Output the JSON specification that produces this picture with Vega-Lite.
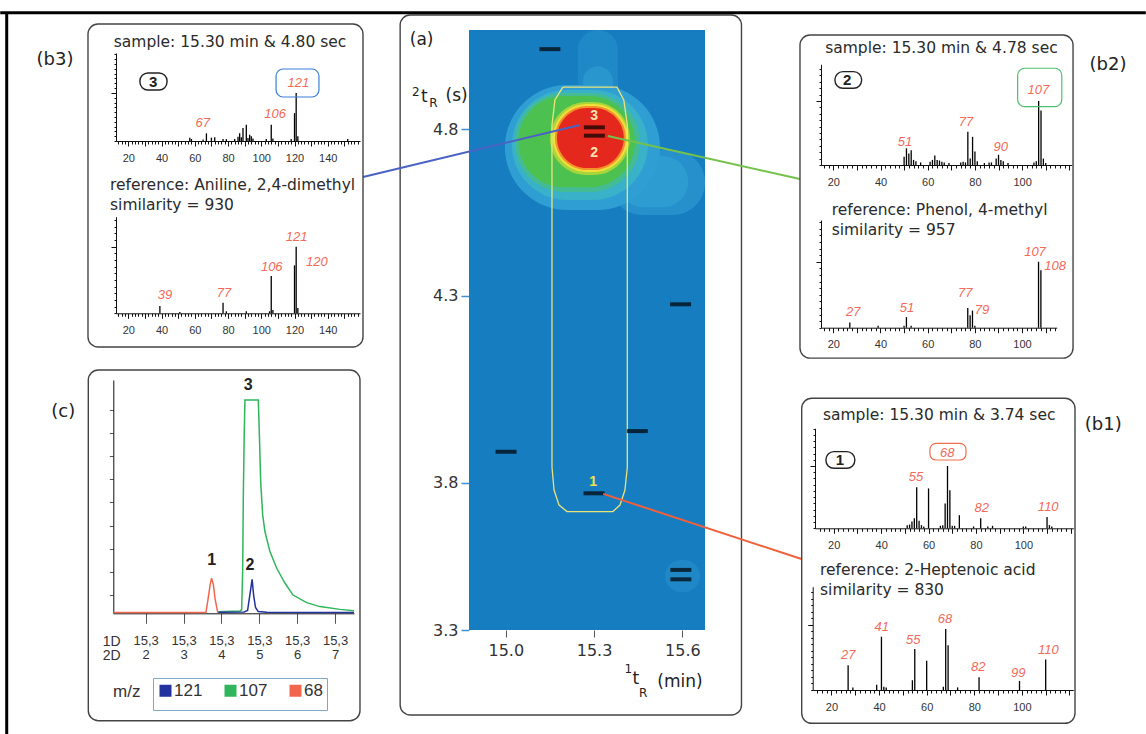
{
"$schema":"https://vega.github.io/schema/vega-lite/v6.json",
"width":1146,"height":734,"autosize":"none","padding":0,"background":"white",
"config":{"view":{"stroke":null},"axis":{"grid":false,"labelFont":"Liberation Sans","domainWidth":1,"tickWidth":1,"labelOverlap":false,"labelFlush":false,"title":null},"text":{"font":"Liberation Sans","baseline":"middle","align":"center"}},
"resolve":{"scale":{"x":"independent","y":"independent","color":"independent","stroke":"independent"},"axis":{"x":"independent","y":"independent"},"legend":{"color":"independent"}},
"layer":[
{
"encoding":{
"x":{"field":"x","type":"quantitative","scale":{"domain":[14.875,15.677],"range":[469,705],"zero":false,"nice":false},"axis":{"orient":"bottom","offset":-104,"values":[15.0,15.3,15.6],"format":".1f","domain":false,"tickSize":7,"tickColor":"#555","labelFont":"DejaVu Sans","labelFontSize":16,"labelColor":"#333","labelPadding":5}},
"y":{"field":"y","type":"quantitative","scale":{"domain":[3.3,3.8,4.3,4.8,5.1],"range":[630,482.7,295.7,129,30],"zero":false,"nice":false},"axis":{"orient":"left","offset":-469,"values":[3.3,3.8,4.3,4.8],"format":".1f","domainColor":"#e6c0c0","tickSize":8,"tickColor":"#3d8fd6","tickWidth":1.5,"labelFont":"DejaVu Sans","labelFontSize":16,"labelColor":"#333","labelPadding":3}}
},
"layer":[
{"data":{"values":[{"x":14.875,"x2":15.677,"y":3.3,"y2":5.1}]},"mark":{"type":"rect","fill":"#177dc1"},"encoding":{"x2":{"field":"x2"},"y2":{"field":"y2"}}},
{"data":{"values":[
{"x":15.541,"x2":15.660,"y":3.429,"y2":3.538,"lv":1},
{"x":15.245,"x2":15.381,"y":4.858,"y2":5.100,"lv":2},
{"x":15.262,"x2":15.364,"y":4.850,"y2":4.990,"lv":3},
{"x":15.354,"x2":15.677,"y":4.542,"y2":4.737,"lv":4},
{"x":15.380,"x2":15.620,"y":4.565,"y2":4.720,"lv":5},
{"x":14.997,"x2":15.524,"y":4.557,"y2":4.933,"lv":6},
{"x":15.021,"x2":15.483,"y":4.587,"y2":4.918,"lv":7},
{"x":15.031,"x2":15.456,"y":4.611,"y2":4.909,"lv":8},
{"x":15.043,"x2":15.439,"y":4.625,"y2":4.900,"lv":9},
{"x":15.150,"x2":15.422,"y":4.662,"y2":4.882,"lv":10},
{"x":15.160,"x2":15.415,"y":4.671,"y2":4.876,"lv":11},
{"x":15.167,"x2":15.408,"y":4.677,"y2":4.870,"lv":12},
{"x":15.174,"x2":15.401,"y":4.683,"y2":4.864,"lv":13}
]},"mark":{"type":"rect","cornerRadius":80},"encoding":{"x2":{"field":"x2"},"y2":{"field":"y2"},"color":{"field":"lv","type":"ordinal","scale":{"domain":[1,2,3,4,5,6,7,8,9,10,11,12,13],"range":["#2088c7","#1f88c7","#2a96ce","#2590cb","#2d9cd0","#2f9fd3","#39b1c9","#43bc95","#4cc14f","#a8d43c","#f1df3a","#f3912b","#e5281d"]},"legend":null}}},
{"data":{"values":[
{"x":15.194,"y":4.927,"o":1},{"x":15.378,"y":4.927,"o":2},{"x":15.401,"y":4.888,"o":3},{"x":15.413,"y":4.812,"o":4},{"x":15.413,"y":3.842,"o":5},{"x":15.405,"y":3.775,"o":6},{"x":15.388,"y":3.724,"o":7},{"x":15.364,"y":3.702,"o":8},{"x":15.208,"y":3.702,"o":9},{"x":15.181,"y":3.724,"o":10},{"x":15.164,"y":3.775,"o":11},{"x":15.157,"y":3.842,"o":12},{"x":15.157,"y":4.812,"o":13},{"x":15.167,"y":4.888,"o":14},{"x":15.194,"y":4.927,"o":15}
]},"mark":{"type":"line","stroke":"#ece37c","strokeWidth":1.3},"encoding":{"order":{"field":"o","type":"quantitative"}}},
{"data":{"values":[
{"x":15.150,"y":5.042},{"x":15.301,"y":4.805},{"x":15.301,"y":4.780},{"x":15.594,"y":4.277},{"x":15.001,"y":3.883},{"x":15.447,"y":3.938},{"x":15.300,"y":3.764},{"x":15.595,"y":3.504},{"x":15.595,"y":3.472}
]},"mark":{"type":"tick","orient":"horizontal","size":21,"thickness":4,"color":"#000"}},
{"data":{"values":[{"x":15.30,"y":4.839,"t":"3"},{"x":15.30,"y":4.727,"t":"2"}]},"mark":{"type":"text","fontWeight":"bold","fontSize":14,"color":"#fbe4b0"},"encoding":{"text":{"field":"t"}}},
{"data":{"values":[{"x":15.297,"y":3.803,"t":"1"}]},"mark":{"type":"text","fontWeight":"bold","fontSize":14,"color":"#f5e04a"},"encoding":{"text":{"field":"t"}}},
{"data":{"values":[{"x":14.641,"x2":15.801,"y":3.0115,"y2":5.1455}]},"mark":{"type":"rect","fillOpacity":0,"stroke":"#444","strokeWidth":1.4,"cornerRadius":10},"encoding":{"x2":{"field":"x2"},"y2":{"field":"y2"}}},
{"data":{"values":[{"x":13.282,"x2":17.175,"y":5.152,"y2":5.152},{"x":13.304,"x2":13.304,"y":5.152,"y2":2.947}]},"mark":{"type":"rule","color":"#000","strokeWidth":3},"encoding":{"x2":{"field":"x2"},"y2":{"field":"y2"}}},
{"data":{"values":[
{"x":14.515,"y":4.656,"x2":15.252,"y2":4.812,"c":"b"},
{"x":15.347,"y":4.779,"x2":15.999,"y2":4.650,"c":"g"},
{"x":15.331,"y":3.762,"x2":16.005,"y2":3.541,"c":"r"}
]},"mark":{"type":"rule","strokeWidth":2},"encoding":{"x2":{"field":"x2"},"y2":{"field":"y2"},"stroke":{"field":"c","type":"nominal","scale":{"domain":["b","g","r"],"range":["#4a62c4","#74c24c","#f0603c"]},"legend":null}}},
{"data":{"values":[{"x":14.714,"y":5.070,"t":"(a)"},{"x":14.723,"y":4.896,"t":"t"},{"x":14.833,"y":4.900,"t":"(s)"},{"x":15.442,"y":3.134,"t":"t"},{"x":15.592,"y":3.124,"t":"(min)"}]},"mark":{"type":"text","font":"DejaVu Sans","fontSize":17,"color":"#222"},"encoding":{"text":{"field":"t"}}},
{"data":{"values":[{"x":14.694,"y":4.913,"t":"2"},{"x":14.754,"y":4.878,"t":"R"},{"x":15.416,"y":3.167,"t":"1"},{"x":15.467,"y":3.085,"t":"R"}]},"mark":{"type":"text","font":"DejaVu Sans","fontSize":12,"color":"#222"},"encoding":{"text":{"field":"t"}}}
]
},
{
"encoding":{
"x":{"field":"x","type":"quantitative","scale":{"domain":[12.6,159.4],"range":[116,360],"zero":false,"nice":false},"axis":{"orient":"bottom","offset":-593,"values":[14,16,18,20,22,24,26,28,30,32,34,36,38,40,42,44,46,48,50,52,54,56,58,60,62,64,66,68,70,72,74,76,78,80,82,84,86,88,90,92,94,96,98,100,102,104,106,108,110,112,114,116,118,120,122,124,126,128,130,132,134,136,138,140,142,144,146,148,150,152,154,156,158],"format":"d","labelExpr":"datum.value % 20 === 0 ? datum.label : ''","tickSize":{"condition":{"test":"datum.value % 10 === 0","value":5},"value":3},"labelFontSize":11,"labelColor":"#333","labelPadding":6,"domainColor":"#111","tickColor":"#111"}},
"y":{"field":"y","type":"quantitative","scale":{"domain":[0,183],"range":[141,53],"zero":false,"nice":false},"axis":{"orient":"left","offset":-116,"values":[0,10,20,30,40,50,60,70,80,90,100,110,120,130,140,150,160,170,180],"labels":false,"tickSize":{"condition":{"test":"datum.value === 100","value":5},"value":2},"domainColor":"#111","tickColor":"#111"}}
},
"layer":[
{"data":{"values":[{"x":57,"y":7},{"x":58,"y":4},{"x":65,"y":3},{"x":67,"y":16},{"x":70,"y":7},{"x":72,"y":8},{"x":77,"y":4},{"x":79,"y":4},{"x":84,"y":4},{"x":86,"y":9},{"x":87,"y":16},{"x":88,"y":8},{"x":89,"y":27},{"x":91,"y":34},{"x":92,"y":6},{"x":93,"y":13},{"x":94,"y":10},{"x":95,"y":5},{"x":103,"y":4},{"x":106,"y":34},{"x":107,"y":5},{"x":118,"y":4},{"x":120,"y":58},{"x":121,"y":100},{"x":122,"y":10},{"x":152,"y":4}]},"mark":{"type":"rule","color":"#000","strokeWidth":1.3},"encoding":{"y2":{"datum":0}}},
{"data":{"values":[{"x":64.8,"y":36.8,"t":"67"},{"x":108.3,"y":55.5,"t":"106"},{"x":122.3,"y":120,"t":"121"}]},"mark":{"type":"text","fontStyle":"italic","fontSize":13,"color":"#f26a5a"},"encoding":{"text":{"field":"t"}}},
{"data":{"values":[{"x":108.9,"x2":134.7,"y":91.5,"y2":149.7}]},"mark":{"type":"rect","fillOpacity":0,"stroke":"#3a7fd5","strokeWidth":1.2,"cornerRadius":7},"encoding":{"x2":{"field":"x2"},"y2":{"field":"y2"}}},
{"data":{"values":[{"x":27.0,"x2":43.3,"y":106.1,"y2":141.4}]},"mark":{"type":"rect","fillOpacity":0,"stroke":"#222","strokeWidth":1.4,"cornerRadius":8},"encoding":{"x2":{"field":"x2"},"y2":{"field":"y2"}}},
{"data":{"values":[{"x":34.9,"y":122.7,"t":"3"}]},"mark":{"type":"text","fontWeight":"bold","fontSize":15,"color":"#222"},"encoding":{"text":{"field":"t"}}},
{"data":{"values":[{"x":81.2,"y":205.9,"t":"sample: 15.30 min & 4.80 sec"}]},"mark":{"type":"text","font":"DejaVu Sans","fontSize":15.5,"color":"#2a2a2a"},"encoding":{"text":{"field":"t"}}},
{"data":{"values":[{"x":-4.25,"x2":161.2,"y":-428.4,"y2":243.3}]},"mark":{"type":"rect","fillOpacity":0,"stroke":"#444","strokeWidth":1.4,"cornerRadius":10},"encoding":{"x2":{"field":"x2"},"y2":{"field":"y2"}}},
{"data":{"values":[{"x":-24.1,"y":168.4,"t":"(b3)"}]},"mark":{"type":"text","font":"DejaVu Sans","fontSize":18,"color":"#222"},"encoding":{"text":{"field":"t"}}}
]
},
{
"encoding":{
"x":{"field":"x","type":"quantitative","scale":{"domain":[12.6,159.4],"range":[116,360],"zero":false,"nice":false},"axis":{"orient":"bottom","offset":-420.7,"values":[14,16,18,20,22,24,26,28,30,32,34,36,38,40,42,44,46,48,50,52,54,56,58,60,62,64,66,68,70,72,74,76,78,80,82,84,86,88,90,92,94,96,98,100,102,104,106,108,110,112,114,116,118,120,122,124,126,128,130,132,134,136,138,140,142,144,146,148,150,152,154,156,158],"format":"d","labelExpr":"datum.value % 20 === 0 ? datum.label : ''","tickSize":{"condition":{"test":"datum.value % 10 === 0","value":5},"value":3},"labelFontSize":11,"labelColor":"#333","labelPadding":6,"domainColor":"#111","tickColor":"#111"}},
"y":{"field":"y","type":"quantitative","scale":{"domain":[0,145],"range":[313.3,216.7],"zero":false,"nice":false},"axis":{"orient":"left","offset":-116,"values":[0,10,20,30,40,50,60,70,80,90,100,110,120,130,140],"labels":false,"tickSize":{"condition":{"test":"datum.value === 100","value":5},"value":2},"domainColor":"#111","tickColor":"#111"}}
},
"layer":[
{"data":{"values":[{"x":39,"y":11},{"x":51,"y":2},{"x":77,"y":16},{"x":79,"y":3},{"x":91,"y":3},{"x":105,"y":3},{"x":106,"y":56},{"x":107,"y":5},{"x":120,"y":72},{"x":121,"y":100},{"x":122,"y":8}]},"mark":{"type":"rule","color":"#000","strokeWidth":1.3},"encoding":{"y2":{"datum":0}}},
{"data":{"values":[{"x":42.1,"y":27.5,"t":"39"},{"x":77.6,"y":30.5,"t":"77"},{"x":106.3,"y":70,"t":"106"},{"x":121.3,"y":115,"t":"121"},{"x":133.5,"y":77,"t":"120"}]},"mark":{"type":"text","fontStyle":"italic","fontSize":13,"color":"#f26a5a"},"encoding":{"text":{"field":"t"}}},
{"data":{"values":[{"x":9.0,"y":192.6,"t":"reference: Aniline, 2,4-dimethyl"},{"x":9.0,"y":162.6,"t":"similarity = 930"}]},"mark":{"type":"text","align":"left","font":"DejaVu Sans","fontSize":15.5,"color":"#2a2a2a"},"encoding":{"text":{"field":"t"}}}
]
},
{
"encoding":{
"x":{"field":"x","type":"quantitative","scale":{"domain":[14.79,121.0],"range":[821,1071.7],"zero":false,"nice":false},"axis":{"orient":"bottom","offset":-569,"values":[16,18,20,22,24,26,28,30,32,34,36,38,40,42,44,46,48,50,52,54,56,58,60,62,64,66,68,70,72,74,76,78,80,82,84,86,88,90,92,94,96,98,100,102,104,106,108,110,112,114,116,118,120],"format":"d","labelExpr":"datum.value % 20 === 0 && datum.value <= 100 ? datum.label : ''","tickSize":{"condition":{"test":"datum.value % 10 === 0","value":5},"value":3},"labelFontSize":11,"labelColor":"#333","labelPadding":6,"domainColor":"#111","tickColor":"#111"}},
"y":{"field":"y","type":"quantitative","scale":{"domain":[0,157.3],"range":[165,64.3],"zero":false,"nice":false},"axis":{"orient":"left","offset":-821,"values":[0,10,20,30,40,50,60,70,80,90,100,110,120,130,140,150],"labels":false,"tickSize":{"condition":{"test":"datum.value === 100","value":5},"value":2},"domainColor":"#111","tickColor":"#111"}}
},
"layer":[
{"data":{"values":[{"x":50,"y":13},{"x":51,"y":26},{"x":52,"y":18},{"x":53,"y":23},{"x":54,"y":8},{"x":55,"y":6},{"x":57,"y":4},{"x":61,"y":5},{"x":62,"y":8},{"x":63,"y":15},{"x":64,"y":8},{"x":65,"y":7},{"x":66,"y":5},{"x":67,"y":4},{"x":69,"y":3},{"x":74,"y":4},{"x":75,"y":5},{"x":76,"y":4},{"x":77,"y":52},{"x":78,"y":10},{"x":79,"y":44},{"x":80,"y":21},{"x":81,"y":6},{"x":84,"y":3},{"x":86,"y":4},{"x":87,"y":4},{"x":89,"y":10},{"x":90,"y":16},{"x":91,"y":8},{"x":92,"y":6},{"x":94,"y":3},{"x":105,"y":4},{"x":106,"y":6},{"x":107,"y":100},{"x":108,"y":85},{"x":109,"y":10},{"x":110,"y":3}]},"mark":{"type":"rule","color":"#000","strokeWidth":1.3},"encoding":{"y2":{"datum":0}}},
{"data":{"values":[{"x":50.4,"y":36.4,"t":"51"},{"x":76.2,"y":67.7,"t":"77"},{"x":90.9,"y":28.6,"t":"90"},{"x":106.9,"y":117.2,"t":"107"}]},"mark":{"type":"text","fontStyle":"italic","fontSize":13,"color":"#f26a5a"},"encoding":{"text":{"field":"t"}}},
{"data":{"values":[{"x":98.1,"x2":116.8,"y":91.1,"y2":151.1}]},"mark":{"type":"rect","fillOpacity":0,"stroke":"#4cc06a","strokeWidth":1.2,"cornerRadius":7},"encoding":{"x2":{"field":"x2"},"y2":{"field":"y2"}}},
{"data":{"values":[{"x":20.7,"x2":32.0,"y":119.8,"y2":145.8}]},"mark":{"type":"rect","fillOpacity":0,"stroke":"#222","strokeWidth":1.4,"cornerRadius":8},"encoding":{"x2":{"field":"x2"},"y2":{"field":"y2"}}},
{"data":{"values":[{"x":25.9,"y":132.8,"t":"2"}]},"mark":{"type":"text","fontWeight":"bold","fontSize":15,"color":"#222"},"encoding":{"text":{"field":"t"}}},
{"data":{"values":[{"x":65.8,"y":182.8,"t":"sample: 15.30 min & 4.78 sec"}]},"mark":{"type":"text","font":"DejaVu Sans","fontSize":15.5,"color":"#2a2a2a"},"encoding":{"text":{"field":"t"}}},
{"data":{"values":[{"x":5.89,"x2":121.57,"y":-301.6,"y2":203.1}]},"mark":{"type":"rect","fillOpacity":0,"stroke":"#444","strokeWidth":1.4,"cornerRadius":10},"encoding":{"x2":{"field":"x2"},"y2":{"field":"y2"}}},
{"data":{"values":[{"x":136.4,"y":156.3,"t":"(b2)"}]},"mark":{"type":"text","font":"DejaVu Sans","fontSize":18,"color":"#222"},"encoding":{"text":{"field":"t"}}}
]
},
{
"encoding":{
"x":{"field":"x","type":"quantitative","scale":{"domain":[14.79,114.7],"range":[821,1056.7],"zero":false,"nice":false},"axis":{"orient":"bottom","offset":-406.3,"values":[16,18,20,22,24,26,28,30,32,34,36,38,40,42,44,46,48,50,52,54,56,58,60,62,64,66,68,70,72,74,76,78,80,82,84,86,88,90,92,94,96,98,100,102,104,106,108,110,112,114],"format":"d","labelExpr":"datum.value % 20 === 0 ? datum.label : ''","tickSize":{"condition":{"test":"datum.value % 10 === 0","value":5},"value":3},"labelFontSize":11,"labelColor":"#333","labelPadding":6,"domainColor":"#111","tickColor":"#111"}},
"y":{"field":"y","type":"quantitative","scale":{"domain":[0,163.2],"range":[327.7,220],"zero":false,"nice":false},"axis":{"orient":"left","offset":-821,"values":[0,10,20,30,40,50,60,70,80,90,100,110,120,130,140,150,160],"labels":false,"tickSize":{"condition":{"test":"datum.value === 100","value":5},"value":2},"domainColor":"#111","tickColor":"#111"}}
},
"layer":[
{"data":{"values":[{"x":27,"y":8},{"x":39,"y":3},{"x":50,"y":3},{"x":51,"y":16},{"x":53,"y":3},{"x":77,"y":30},{"x":78,"y":19},{"x":79,"y":26},{"x":80,"y":3},{"x":107,"y":100},{"x":108,"y":87}]},"mark":{"type":"rule","color":"#000","strokeWidth":1.3},"encoding":{"y2":{"datum":0}}},
{"data":{"values":[{"x":28.5,"y":24.2,"t":"27"},{"x":51.2,"y":29.4,"t":"51"},{"x":75.9,"y":52.1,"t":"77"},{"x":83.0,"y":26.8,"t":"79"},{"x":105.5,"y":115.2,"t":"107"},{"x":114.0,"y":93.9,"t":"108"}]},"mark":{"type":"text","fontStyle":"italic","fontSize":13,"color":"#f26a5a"},"encoding":{"text":{"field":"t"}}},
{"data":{"values":[{"x":19.3,"y":178.3,"t":"reference: Phenol, 4-methyl"},{"x":19.3,"y":148.0,"t":"similarity = 957"}]},"mark":{"type":"text","align":"left","font":"DejaVu Sans","fontSize":15.5,"color":"#2a2a2a"},"encoding":{"text":{"field":"t"}}}
]
},
{
"encoding":{
"x":{"field":"x","type":"quantitative","scale":{"domain":[12.09,121.08],"range":[815,1073.3],"zero":false,"nice":false},"axis":{"orient":"bottom","offset":-205.7,"values":[14,16,18,20,22,24,26,28,30,32,34,36,38,40,42,44,46,48,50,52,54,56,58,60,62,64,66,68,70,72,74,76,78,80,82,84,86,88,90,92,94,96,98,100,102,104,106,108,110,112,114,116,118,120],"format":"d","labelExpr":"datum.value % 20 === 0 && datum.value <= 100 ? datum.label : ''","tickSize":{"condition":{"test":"datum.value % 10 === 0","value":5},"value":3},"labelFontSize":11,"labelColor":"#333","labelPadding":6,"domainColor":"#111","tickColor":"#111"}},
"y":{"field":"y","type":"quantitative","scale":{"domain":[0,160.5],"range":[528.3,428.3],"zero":false,"nice":false},"axis":{"orient":"left","offset":-815,"values":[0,10,20,30,40,50,60,70,80,90,100,110,120,130,140,150,160],"labels":false,"tickSize":{"condition":{"test":"datum.value === 100","value":5},"value":2},"domainColor":"#111","tickColor":"#111"}}
},
"layer":[
{"data":{"values":[{"x":51,"y":5},{"x":52,"y":6},{"x":53,"y":11},{"x":54,"y":16},{"x":55,"y":66},{"x":56,"y":12},{"x":57,"y":5},{"x":58,"y":3},{"x":60,"y":64},{"x":65,"y":4},{"x":66,"y":5},{"x":67,"y":40},{"x":68,"y":100},{"x":69,"y":61},{"x":70,"y":4},{"x":71,"y":4},{"x":73,"y":21},{"x":79,"y":3},{"x":82,"y":16},{"x":85,"y":3},{"x":87,"y":4},{"x":100,"y":3},{"x":101,"y":3},{"x":110,"y":18},{"x":111,"y":5},{"x":112,"y":3}]},"mark":{"type":"rule","color":"#000","strokeWidth":1.3},"encoding":{"y2":{"datum":0}}},
{"data":{"values":[{"x":54.7,"y":81.9,"t":"55"},{"x":67.9,"y":121.3,"t":"68"},{"x":82.4,"y":32.1,"t":"82"},{"x":110.5,"y":33.7,"t":"110"}]},"mark":{"type":"text","fontStyle":"italic","fontSize":13,"color":"#f26a5a"},"encoding":{"text":{"field":"t"}}},
{"data":{"values":[{"x":60.6,"x2":75.8,"y":109.6,"y2":136.4}]},"mark":{"type":"rect","fillOpacity":0,"stroke":"#f07050","strokeWidth":1.2,"cornerRadius":6},"encoding":{"x2":{"field":"x2"},"y2":{"field":"y2"}}},
{"data":{"values":[{"x":16.7,"x2":28.9,"y":96.3,"y2":123.0}]},"mark":{"type":"rect","fillOpacity":0,"stroke":"#222","strokeWidth":1.4,"cornerRadius":8},"encoding":{"x2":{"field":"x2"},"y2":{"field":"y2"}}},
{"data":{"values":[{"x":22.6,"y":109.6,"t":"1"}]},"mark":{"type":"text","fontWeight":"bold","fontSize":15,"color":"#222"},"encoding":{"text":{"field":"t"}}},
{"data":{"values":[{"x":64.5,"y":181.9,"t":"sample: 15.30 min & 3.74 sec"}]},"mark":{"type":"text","font":"DejaVu Sans","fontSize":15.5,"color":"#2a2a2a"},"encoding":{"text":{"field":"t"}}},
{"data":{"values":[{"x":6.48,"x2":121.8,"y":-313.0,"y2":208.7}]},"mark":{"type":"rect","fillOpacity":0,"stroke":"#444","strokeWidth":1.4,"cornerRadius":10},"encoding":{"x2":{"field":"x2"},"y2":{"field":"y2"}}},
{"data":{"values":[{"x":133.7,"y":165.8,"t":"(b1)"}]},"mark":{"type":"text","font":"DejaVu Sans","fontSize":18,"color":"#222"},"encoding":{"text":{"field":"t"}}}
]
},
{
"encoding":{
"x":{"field":"x","type":"quantitative","scale":{"domain":[12.12,121.6],"range":[812.7,1073.3],"zero":false,"nice":false},"axis":{"orient":"bottom","offset":-44,"values":[14,16,18,20,22,24,26,28,30,32,34,36,38,40,42,44,46,48,50,52,54,56,58,60,62,64,66,68,70,72,74,76,78,80,82,84,86,88,90,92,94,96,98,100,102,104,106,108,110,112,114,116,118,120],"format":"d","labelExpr":"datum.value % 20 === 0 && datum.value <= 100 ? datum.label : ''","tickSize":{"condition":{"test":"datum.value % 10 === 0","value":5},"value":3},"labelFontSize":11,"labelColor":"#333","labelPadding":6,"domainColor":"#111","tickColor":"#111"}},
"y":{"field":"y","type":"quantitative","scale":{"domain":[0,158.9],"range":[690,586.7],"zero":false,"nice":false},"axis":{"orient":"left","offset":-812.7,"values":[0,10,20,30,40,50,60,70,80,90,100,110,120,130,140,150],"labels":false,"tickSize":{"condition":{"test":"datum.value === 100","value":5},"value":2},"domainColor":"#111","tickColor":"#111"}}
},
"layer":[
{"data":{"values":[{"x":27,"y":38},{"x":29,"y":4},{"x":39,"y":8},{"x":41,"y":82},{"x":42,"y":5},{"x":43,"y":4},{"x":54,"y":15},{"x":55,"y":63},{"x":60,"y":45},{"x":67,"y":5},{"x":68,"y":94},{"x":69,"y":69},{"x":73,"y":4},{"x":82,"y":19.5},{"x":99,"y":14},{"x":110,"y":47}]},"mark":{"type":"rule","color":"#000","strokeWidth":1.3},"encoding":{"y2":{"datum":0}}},
{"data":{"values":[{"x":27.1,"y":53.8,"t":"27"},{"x":41.1,"y":96.5,"t":"41"},{"x":54.4,"y":76.9,"t":"55"},{"x":67.7,"y":108.8,"t":"68"},{"x":81.7,"y":34.9,"t":"82"},{"x":98.5,"y":26.6,"t":"99"},{"x":111.1,"y":61.5,"t":"110"}]},"mark":{"type":"text","fontStyle":"italic","fontSize":13,"color":"#f26a5a"},"encoding":{"text":{"field":"t"}}},
{"data":{"values":[{"x":15.2,"y":184.6,"t":"reference: 2-Heptenoic acid"},{"x":15.2,"y":153.8,"t":"similarity = 830"}]},"mark":{"type":"text","align":"left","font":"DejaVu Sans","fontSize":15.5,"color":"#2a2a2a"},"encoding":{"text":{"field":"t"}}}
]
},
{
"encoding":{
"x":{"field":"x","type":"quantitative","scale":{"domain":[1.145,7.5],"range":[113.3,354],"zero":false,"nice":false},"axis":{"orient":"bottom","offset":-120.7,"values":[2,3,4,5,6,7],"labelExpr":"['15,3', datum.label]","tickSize":10,"labelPadding":11,"labelFontSize":13,"labelLineHeight":14.5,"labelColor":"#333","domainColor":"#111","tickColor":"#555"}},
"y":{"field":"y","type":"quantitative","scale":{"domain":[0,101],"range":[613.3,380],"zero":false,"nice":false},"axis":{"orient":"left","offset":-113.3,"values":[8,18,28,38,48,58,68,78,88],"labels":false,"tickSize":4,"tickColor":"#555","domainColor":"#111"}}
},
"layer":[
{"data":{"values":[
{"x":1.145,"y":0.3,"m":"68"},{"x":3.59,"y":0.3,"m":"68"},{"x":3.65,"y":6.5,"m":"68"},{"x":3.70,"y":12.2,"m":"68"},{"x":3.74,"y":15.2,"m":"68"},{"x":3.79,"y":12.2,"m":"68"},{"x":3.83,"y":6.5,"m":"68"},{"x":3.90,"y":0.5,"m":"68"},{"x":4.0,"y":0.3,"m":"68"},
{"x":3.92,"y":0.7,"m":"107"},{"x":4.49,"y":1.0,"m":"107"},{"x":4.534,"y":1.5,"m":"107"},{"x":4.56,"y":18,"m":"107"},{"x":4.577,"y":49.8,"m":"107"},{"x":4.603,"y":78.6,"m":"107"},{"x":4.62,"y":92.3,"m":"107"},{"x":4.973,"y":92.3,"m":"107"},{"x":5.0,"y":78.6,"m":"107"},{"x":5.036,"y":57.0,"m":"107"},{"x":5.089,"y":42.6,"m":"107"},{"x":5.15,"y":35.3,"m":"107"},{"x":5.28,"y":26.7,"m":"107"},{"x":5.46,"y":19.5,"m":"107"},{"x":5.68,"y":13.0,"m":"107"},{"x":5.89,"y":7.9,"m":"107"},{"x":6.25,"y":4.6,"m":"107"},{"x":6.60,"y":2.9,"m":"107"},{"x":7.13,"y":1.7,"m":"107"},{"x":7.5,"y":1.1,"m":"107"},
{"x":3.92,"y":0.5,"m":"121"},{"x":4.60,"y":0.6,"m":"121"},{"x":4.69,"y":1.2,"m":"121"},{"x":4.75,"y":7.9,"m":"121"},{"x":4.81,"y":14.7,"m":"121"},{"x":4.85,"y":7.9,"m":"121"},{"x":4.90,"y":2.5,"m":"121"},{"x":4.97,"y":0.8,"m":"121"},{"x":5.2,"y":0.5,"m":"121"},{"x":7.5,"y":0.4,"m":"121"}
]},"mark":{"type":"line","strokeWidth":1.5},"encoding":{"color":{"field":"m","type":"nominal","scale":{"domain":["121","107","68"],"range":["#22329e","#2fb55c","#f26650"]},"legend":{"orient":"none","legendX":153,"legendY":678,"direction":"horizontal","title":null,"symbolType":"square","symbolSize":36,"symbolStrokeWidth":6,"labelFontSize":17,"labelFont":"Liberation Sans","labelColor":"#333","labelOffset":0,"columnPadding":12,"padding":4,"strokeColor":"#7ea9c9"}}}},
{"data":{"values":[{"x":4.709,"y":98.8,"t":"3"},{"x":3.742,"y":23.1,"t":"1"},{"x":4.753,"y":20.9,"t":"2"}]},"mark":{"type":"text","fontWeight":"bold","fontSize":16,"color":"#222"},"encoding":{"text":{"field":"t"}}},
{"data":{"values":[{"x":1.103,"y":-12.3,"t":"1D"},{"x":1.103,"y":-18.5,"t":"2D"}]},"mark":{"type":"text","fontSize":14,"color":"#333"},"encoding":{"text":{"field":"t"}}},
{"data":{"values":[{"x":1.499,"y":-33.9,"t":"m/z"}]},"mark":{"type":"text","fontSize":17,"color":"#333"},"encoding":{"text":{"field":"t"}}},
{"data":{"values":[{"x":0.485,"x2":7.658,"y":-46.5,"y2":105.3}]},"mark":{"type":"rect","fillOpacity":0,"stroke":"#444","strokeWidth":1.4,"cornerRadius":10},"encoding":{"x2":{"field":"x2"},"y2":{"field":"y2"}}},
{"data":{"values":[{"x":-0.175,"y":87.3,"t":"(c)"}]},"mark":{"type":"text","font":"DejaVu Sans","fontSize":18,"color":"#222"},"encoding":{"text":{"field":"t"}}}
]
}
]
}
